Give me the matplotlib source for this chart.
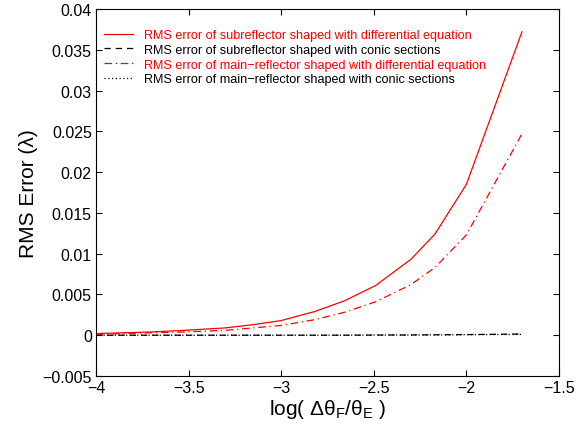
import matplotlib
matplotlib.use("Agg")
import matplotlib.pyplot as plt

plt.rcParams['font.family'] = ['Liberation Sans', 'DejaVu Sans']
plt.rcParams['mathtext.fontset'] = 'custom'
plt.rcParams['mathtext.rm'] = 'Liberation Sans'
plt.rcParams['mathtext.it'] = 'Liberation Sans'
plt.rcParams['mathtext.default'] = 'regular'

# log(dtheta_F / theta_E)
log_ratio = [-4.0, -3.7, -3.52, -3.3, -3.15, -3.0, -2.82, -2.66, -2.49, -2.3, -2.17, -2.0, -1.7]

sub_diff = [0.0002, 0.0004, 0.0006, 0.0009, 0.0013, 0.0018, 0.0029, 0.0042, 0.0061, 0.0093, 0.0124, 0.0185, 0.0372]
sub_conic = [0.0, 0.0, 0.0, 0.0, 0.0, 0.0, 0.0, 0.0, 0.00002, 0.00003, 0.00005, 0.00008, 0.00015]
main_diff = [0.0001, 0.0003, 0.0004, 0.0006, 0.0009, 0.0012, 0.0019, 0.0028, 0.0041, 0.0062, 0.0083, 0.0123, 0.0247]
main_conic = [0.0, 0.0, 0.0, 0.0, 0.0, 0.0, 0.0, 0.00001, 0.00002, 0.00003, 0.00004, 0.00006, 0.0001]

labels = ['RMS error of subreflector shaped with differential equation',
          'RMS error of subreflector shaped with conic sections',
          'RMS error of main\u2212reflector shaped with differential equation',
          'RMS error of main\u2212reflector shaped with conic sections']

fig = plt.figure(figsize=(5.85, 4.27), dpi=100)
ax = fig.add_axes([96 / 585, 50 / 427, 463 / 585, 367 / 427])

ax.plot(log_ratio, sub_diff, color='red', linestyle='-', linewidth=0.9, label=labels[0])
ax.plot(log_ratio, sub_conic, color='black', linestyle=(0, (5, 4)), linewidth=0.9, label=labels[1])
ax.plot(log_ratio, main_diff, color='red', linestyle=(0, (6, 3, 1, 3)), linewidth=0.9, label=labels[2])
ax.plot(log_ratio, main_conic, color='black', linestyle=(0, (1, 2)), linewidth=0.9, label=labels[3])

ax.set_xlim(-4, -1.5)
ax.set_ylim(-0.005, 0.04)
ax.set_xticks([-4, -3.5, -3, -2.5, -2, -1.5])
ax.set_xticklabels(['\u22124', '\u22123.5', '\u22123', '\u22122.5', '\u22122', '\u22121.5'])
yt = [-0.005, 0, 0.005, 0.01, 0.015, 0.02, 0.025, 0.03, 0.035, 0.04]
ax.set_yticks(yt)
ax.set_yticklabels(['\u22120.005', '0', '0.005', '0.01', '0.015', '0.02', '0.025', '0.03', '0.035', '0.04'])
ax.tick_params(direction='in', top=True, right=True, labelsize=11.5, length=4, pad=3)
for s in ax.spines.values():
    s.set_linewidth(0.8)

ax.set_xlabel(r'log( $\Delta\theta_F/\theta_E$ )', fontsize=15, labelpad=1)
ax.set_ylabel('RMS Error (\u03bb)', fontsize=15, labelpad=3)

leg = ax.legend(loc='upper left', bbox_to_anchor=(0.0, 0.968), frameon=False, fontsize=9.1,
                handlelength=2.3, handletextpad=0.85, labelspacing=0.22, borderaxespad=0.35,
                borderpad=0.3)
for txt, col in zip(leg.get_texts(), ['red', 'black', 'red', 'black']):
    txt.set_color(col)

fig.savefig('out.png', dpi=100)
